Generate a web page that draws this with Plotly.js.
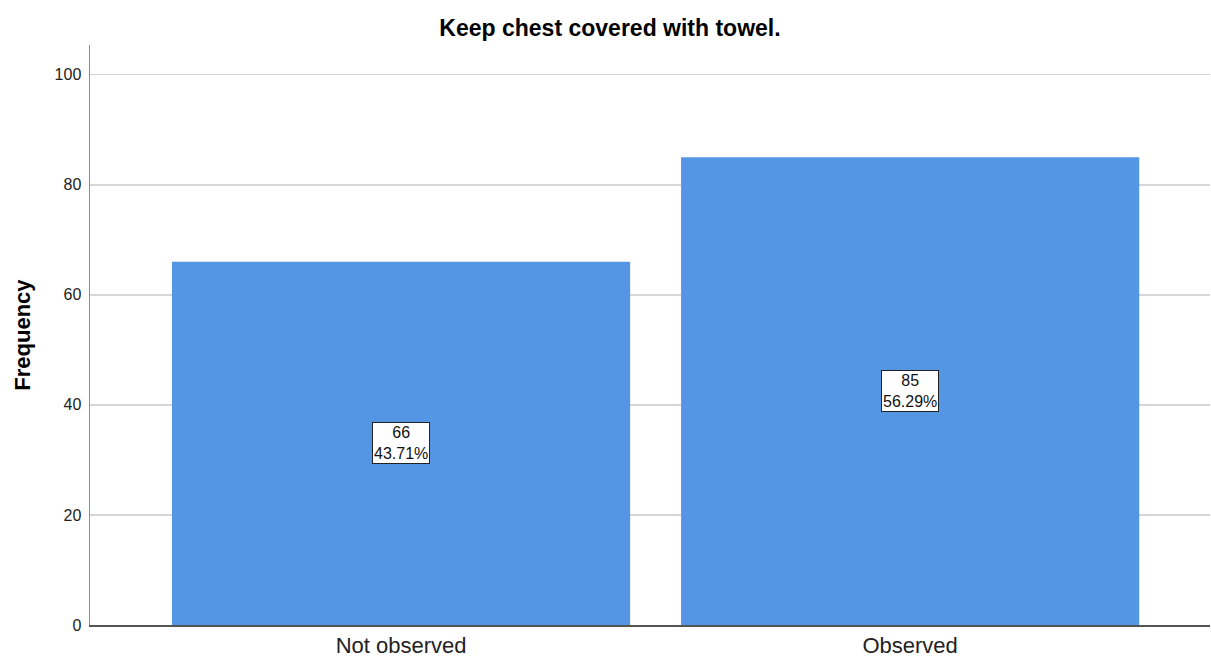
<!DOCTYPE html>
<html>
<head>
<meta charset="utf-8">
<script src="https://cdn.plot.ly/plotly-3.0.1.min.js"></script>
<style>html,body{margin:0;padding:0;background:#fff;}#chart{width:1211px;height:659px;}</style>
</head>
<body>
<div id="chart"></div>
<script>
const categories = ["Not observed", "Observed"];
const counts = [66, 85];
const yTicks = [0, 20, 40, 60, 80, 100];
const chartTitle = "Keep chest covered with towel.";
const yTitle = "Frequency";

const total = counts.reduce((a, b) => a + b, 0);
const labels = counts.map(c => c + "<br>" + (100 * c / total).toFixed(2) + "%");

const font = "Arial, 'Liberation Sans', sans-serif";

const trace = {
  type: "bar",
  x: [0, 1],
  y: counts,
  marker: { color: "#5596e4", line: { width: 0 } },
  hoverinfo: "skip"
};

const annotations = counts.map((c, i) => ({
  x: i, y: c / 2, xref: "x", yref: "y",
  text: labels[i], showarrow: false,
  font: { family: font, size: 16, color: "#111" },
  bgcolor: "#ffffff", bordercolor: "#222", borderwidth: 1, borderpad: 1,
  xanchor: "center", yanchor: "middle"
}));

annotations.push({
  xref: "paper", yref: "paper", x: -0.061, y: 0.5,
  text: "<b>" + yTitle + "</b>", showarrow: false, textangle: -90,
  font: { family: font, size: 22, color: "#000" },
  xanchor: "center", yanchor: "middle"
});

const layout = {
  width: 1211, height: 659,
  margin: { l: 90, r: 1, t: 45, b: 34 },
  paper_bgcolor: "#fff", plot_bgcolor: "#fff",
  bargap: 0.1,
  showlegend: false,
  title: {
    text: "<b>" + chartTitle + "</b>",
    font: { family: font, size: 23, color: "#000" },
    xref: "container", x: 610 / 1211, xanchor: "center",
    yref: "container", y: 1 - 28 / 659, yanchor: "middle"
  },
  xaxis: {
    range: [-0.611, 1.589],
    tickmode: "array", tickvals: [0, 1], ticktext: categories,
    ticks: "", showgrid: false, zeroline: false,
    showline: true, linecolor: "#555", linewidth: 1.5,
    tickfont: { family: font, size: 22, color: "#222" },
    fixedrange: true
  },
  yaxis: {
    range: [0, 105.4],
    tickmode: "array", tickvals: yTicks,
    ticks: "", showgrid: true, gridcolor: "#d6d6d6", gridwidth: 1.5,
    zeroline: false, showline: true, linecolor: "#8c8c8c", linewidth: 1.5,
    tickfont: { family: font, size: 16, color: "#222" },
    ticklabelstandoff: 4,
    fixedrange: true
  },
  annotations: annotations
};

Plotly.newPlot("chart", [trace], layout, { displayModeBar: false, staticPlot: true });
</script>
</body>
</html>
